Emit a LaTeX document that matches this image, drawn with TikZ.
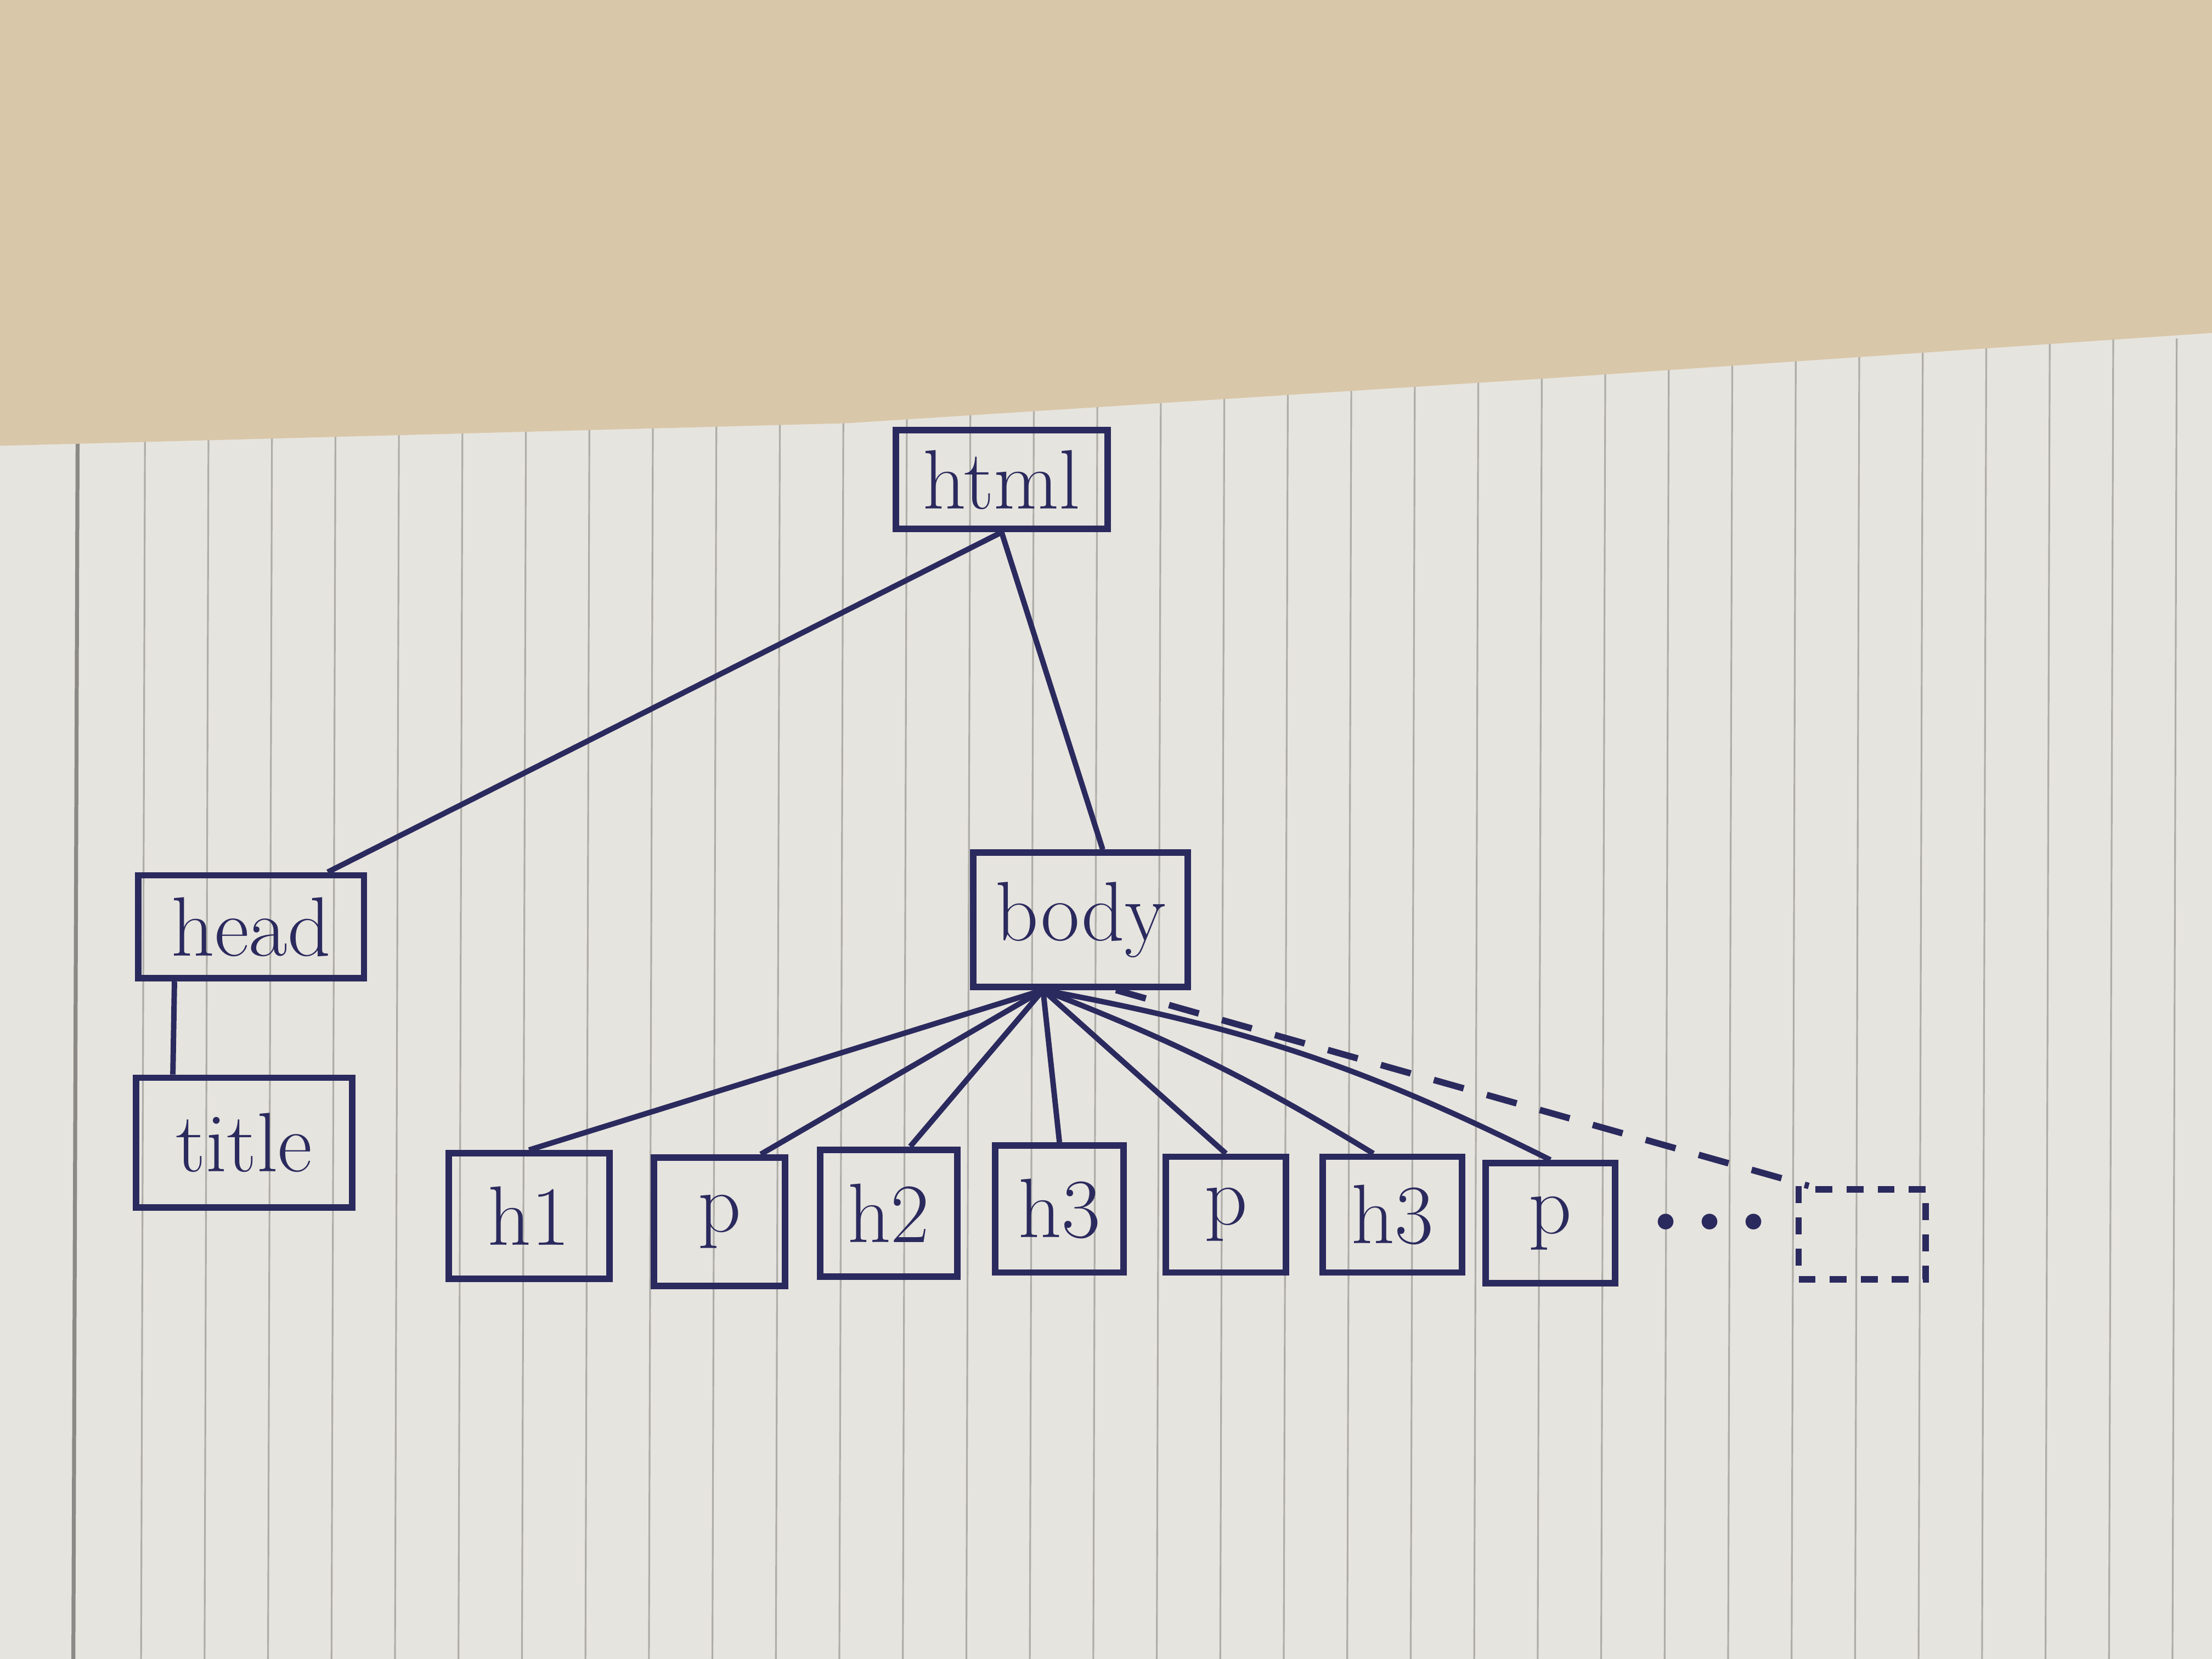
\documentclass[tikz,border=0pt]{standalone}
\usetikzlibrary{calc}
\definecolor{ink}{HTML}{2B2A5E}
\definecolor{wood}{HTML}{D9C7A9}
\definecolor{paper}{HTML}{E6E4DE}
\definecolor{rule}{HTML}{AEADA8}
\tikzset{
  tag/.style={draw=ink, line width=1.3pt, inner sep=0pt, font=\fontsize{17}{20}\selectfont, text=ink},
  edge/.style={draw=ink, line width=1.1pt},
  dedge/.style={draw=ink, line width=1.3pt, dash pattern=on 0.22cm off 0.17cm},
}
\begin{document}
\begin{tikzpicture}[x=0.01cm,y=-0.01cm]
\useasboundingbox (0,0) rectangle (1568,1176);
% background: table and lined paper
\fill[paper] (0,0) rectangle (1568,1176);
\draw[rule!80!black, line width=0.8pt] (55,314) -- (52,1176);
\foreach \x in {103,148,193,238,283,328,373,418,463,508,553,598,643,688,733,778,823,868,913,958,1003,1048,1093,1138,1183,1228,1273,1318,1363,1408,1453,1498,1543}
  \draw[rule, line width=0.35pt] (\x,240) -- (\x-3,1176);
\fill[wood] (0,0) -- (1568,0) -- (1568,236) -- (1100,268) -- (600,300) -- (0,316) -- cycle;

% nodes
\node[tag, minimum width=1.50cm, minimum height=0.70cm] (html) at (710,340) {html};
\node[tag, minimum width=1.60cm, minimum height=0.73cm] (head) at (178,657) {head};
\node[tag, minimum width=1.53cm, minimum height=0.92cm] (title) at (173,810) {title};
\node[tag, minimum width=1.52cm, minimum height=0.95cm] (body) at (766,652) {body};
\node[tag, minimum width=1.14cm, minimum height=0.89cm] (h1) at (375,862) {h1};
\node[tag, minimum width=0.93cm, minimum height=0.91cm] (p1) at (510,866) {p};
\node[tag, minimum width=0.97cm, minimum height=0.90cm] (h2) at (630,860) {h2};
\node[tag, minimum width=0.91cm, minimum height=0.90cm] (h3a) at (751,857) {h3};
\node[tag, minimum width=0.85cm, minimum height=0.82cm] (p2) at (869,861) {p};
\node[tag, minimum width=0.99cm, minimum height=0.82cm] (h3b) at (987,861) {h3};
\node[tag, minimum width=0.92cm, minimum height=0.85cm] (p3) at (1099,867) {p};
\node[text=ink, font=\fontsize{22}{22}\selectfont\bfseries] (dots) at (1212,866) {.\hspace{0.07cm}.\hspace{0.07cm}.};
\node[draw=ink, line width=1.3pt, dash pattern=on 0.12cm off 0.1cm, minimum width=0.90cm, minimum height=0.64cm] (more) at (1320,875) {};

% anchor points
\coordinate (headin) at ($(head.north west)!0.83!(head.north east)$);
\coordinate (bodyin) at ($(body.north west)!0.6!(body.north east)$);
\coordinate (fan) at ($(body.south west)!0.33!(body.south east)$);
\coordinate (fan2) at ($(body.south west)!0.66!(body.south east)$);
\coordinate (p1in) at ($(p1.north west)!0.8!(p1.north east)$);
\coordinate (h2in) at ($(h2.north west)!0.65!(h2.north east)$);
\coordinate (h3bin) at ($(h3b.north west)!0.37!(h3b.north east)$);
\coordinate (morein) at ($(more.north west)!0.1!(more.north east)$);

% connectors
\draw[edge] (html.south) -- (headin);
\draw[edge] (html.south) -- (bodyin);
\draw[edge] ($(head.south west)!0.17!(head.south east)$) -- ($(title.north west)!0.18!(title.north east)$);
\draw[edge] (fan) -- (h1.north);
\draw[edge] (fan) -- (p1in);
\draw[edge] (fan) -- (h2in);
\draw[edge] (fan) -- (h3a.north);
\draw[edge] (fan) -- (p2.north);
\draw[edge] (fan) to[bend left=5] (h3bin);
\draw[edge] (fan) to[bend left=8] (p3.north);
\draw[dedge] (fan2) -- (morein);
\end{tikzpicture}
\end{document}
